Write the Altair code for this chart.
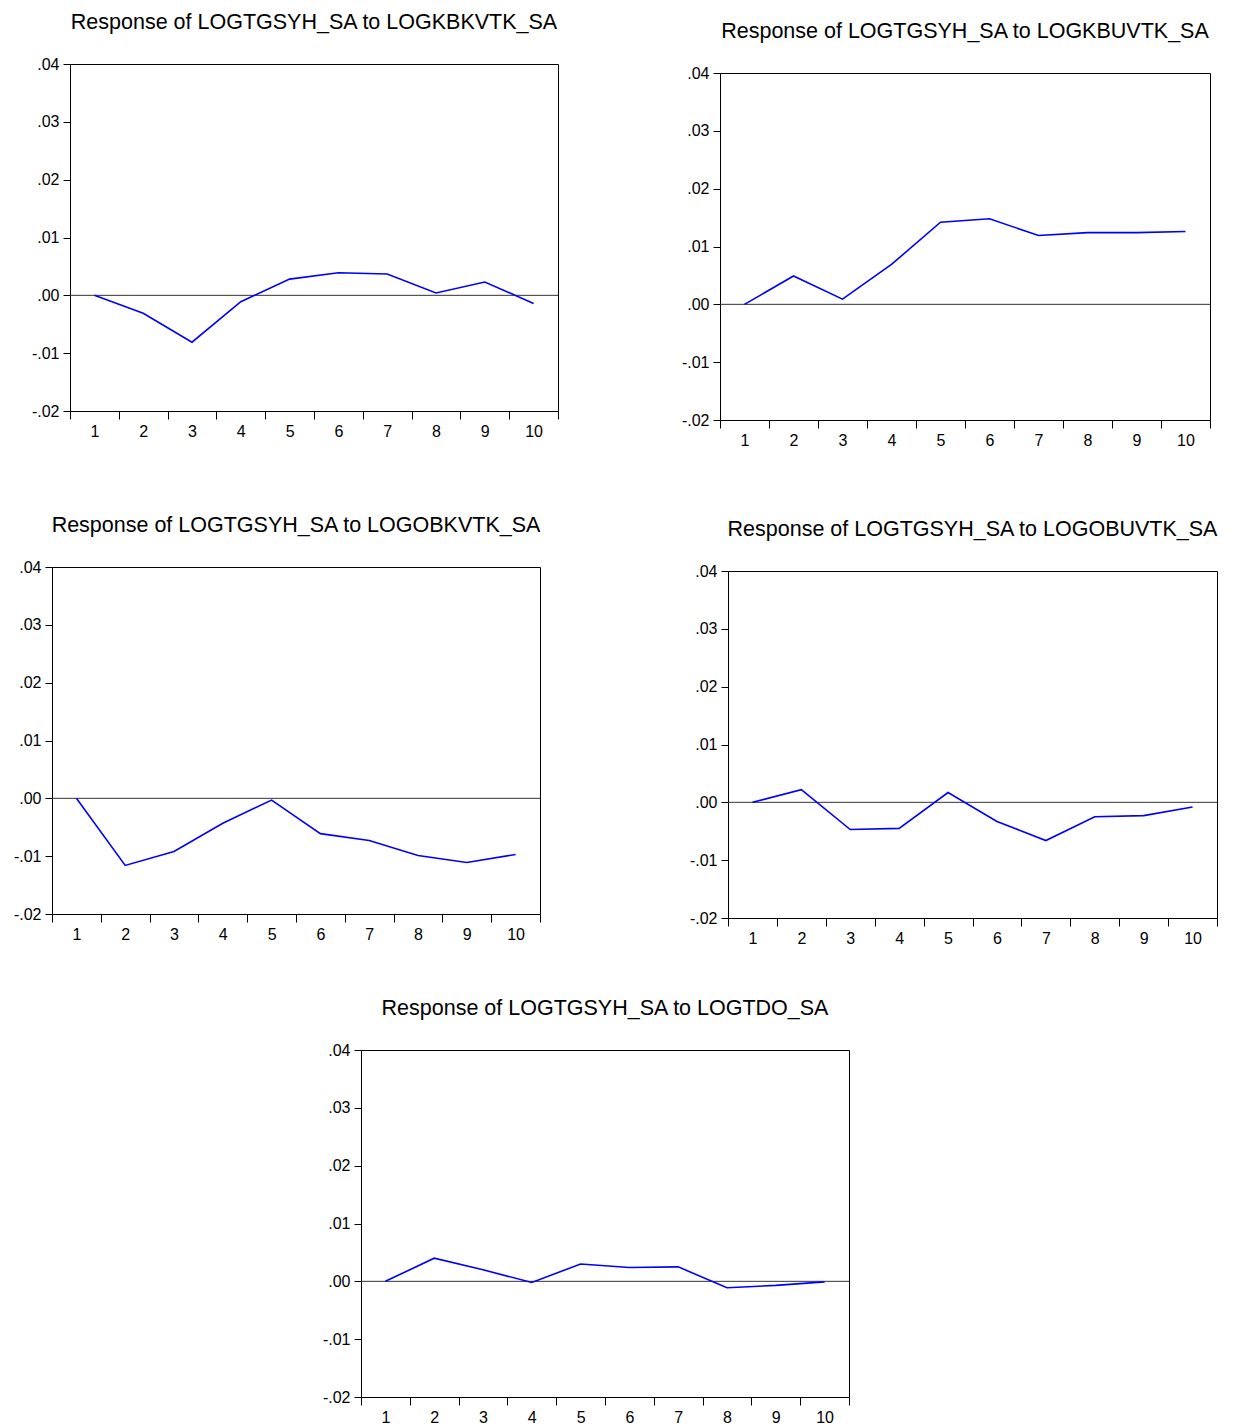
import altair as alt
import pandas as pd

# ---------------- data ----------------
horizon = [1, 2, 3, 4, 5, 6, 7, 8, 9, 10]

resp_kbkvtk = [0.0, -0.0031, -0.0081, -0.0011, 0.0028, 0.0039, 0.0037, 0.0004, 0.0023, -0.0014]
resp_kbuvtk = [0.0, 0.0049, 0.0009, 0.0069, 0.0142, 0.0148, 0.0119, 0.0124, 0.0124, 0.0126]
resp_obkvtk = [0.0, -0.0116, -0.0092, -0.0043, -0.0003, -0.0061, -0.0073, -0.0099, -0.0111, -0.0097]
resp_obuvtk = [0.0, 0.0022, -0.0047, -0.0045, 0.0017, -0.0033, -0.0066, -0.0025, -0.0023, -0.0008]
resp_tdo = [0.0, 0.0040, 0.0020, -0.0002, 0.0030, 0.0024, 0.0025, -0.0011, -0.0007, -0.0001]

titles = [
    "Response of LOGTGSYH_SA to LOGKBKVTK_SA",
    "Response of LOGTGSYH_SA to LOGKBUVTK_SA",
    "Response of LOGTGSYH_SA to LOGOBKVTK_SA",
    "Response of LOGTGSYH_SA to LOGOBUVTK_SA",
    "Response of LOGTGSYH_SA to LOGTDO_SA",
]

y_ticks = [-0.02, -0.01, 0.0, 0.01, 0.02, 0.03, 0.04]
y_domain = [-0.02, 0.04]
zero_level = [0.0]

FONT = "Liberation Sans"
PLOT_H = 347
TITLE_SIZE = 21.5
TITLE_OFFSET = 6
TICK_FONT = 16
Y_LABEL_EXPR = (
    "(datum.value < -0.000001 ? '-' : '') + "
    "replace(format(abs(datum.value), '.2f'), '0.', '.')"
)


def blank(w, h):
    """Invisible layout spacer (draws nothing)."""
    return (
        alt.Chart(pd.DataFrame({"b": [0]}))
        .mark_point(size=0, strokeWidth=0, opacity=0)
        .encode(x=alt.value(0), y=alt.value(0))
        .properties(width=w, height=h, view=alt.ViewBackground(stroke="transparent"))
    )


def panel(values, title, y_extent, width=488):
    df = pd.DataFrame({"h": horizon, "v": values})
    x = alt.X(
        "h:O",
        scale=alt.Scale(paddingInner=0, paddingOuter=0),
        axis=alt.Axis(
            title=None, labelAngle=0, tickBand="extent", tickSize=8,
            labelPadding=4, domain=False, tickColor="black", tickWidth=1,
            labelFont=FONT, labelFontSize=TICK_FONT, labelColor="black",
        ),
    )
    y = alt.Y(
        "v:Q",
        scale=alt.Scale(domain=y_domain, nice=False, zero=False),
        axis=alt.Axis(
            title=None, values=y_ticks, labelExpr=Y_LABEL_EXPR,
            grid=False, domain=False, tickSize=7, labelPadding=4,
            tickColor="black", tickWidth=1,
            labelFont=FONT, labelFontSize=TICK_FONT, labelColor="black",
            minExtent=y_extent, maxExtent=y_extent,
        ),
    )
    line = alt.Chart(df).mark_line(color="#0000ff", strokeWidth=1.6).encode(x=x, y=y)
    zero = alt.Chart(pd.DataFrame({"z": zero_level})).mark_rule(
        color="#333333", strokeWidth=1
    ).encode(y=alt.Y("z:Q"))
    ttl = alt.TitleParams(
        text=title, fontSize=TITLE_SIZE, font=FONT, fontWeight="normal",
        color="black", anchor="middle", offset=TITLE_OFFSET, baseline="alphabetic",
    )
    return alt.layer(zero, line).properties(width=width, height=PLOT_H, title=ttl)


def vwrap(chart, h):
    return alt.vconcat(blank(1, h), chart, spacing=0)


p1 = vwrap(panel(resp_kbkvtk, titles[0], 35), 1)
p2 = vwrap(panel(resp_kbuvtk, titles[1], 40, width=490), 10)
p3 = vwrap(panel(resp_obkvtk, titles[2], 35), 1)
p4 = vwrap(panel(resp_obuvtk, titles[3], 40, width=489), 5)
p5 = vwrap(panel(resp_tdo, titles[4], 35), 1)

row1 = alt.hconcat(blank(20, 1), alt.hconcat(p1, p2, spacing=120), spacing=0)
row2 = alt.hconcat(blank(2, 1), alt.hconcat(p3, p4, spacing=145), spacing=0)
row3 = alt.hconcat(blank(311, 1), p5, spacing=0)

chart = (
    alt.vconcat(alt.vconcat(row1, row2, spacing=62), row3, spacing=47)
    .properties(padding={"left": 0, "top": 0, "right": 0, "bottom": 0}, background="white")
    .configure_view(stroke="black", strokeWidth=1)
)

chart.save("out.html", embed_options={"renderer": "svg", "actions": False})
